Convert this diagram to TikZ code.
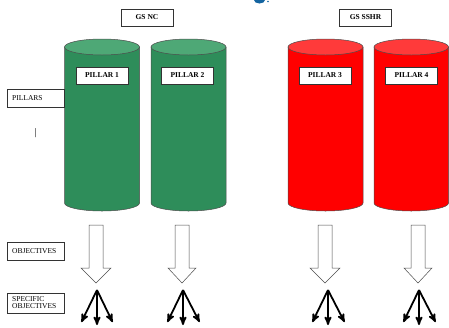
\documentclass[tikz,border=0pt]{standalone}
\usepackage{fontspec}
\setmainfont{Liberation Serif}
\usetikzlibrary{arrows}
\definecolor{pillargreen}{RGB}{46,141,90}
\definecolor{greentop}{RGB}{78,168,118}
\definecolor{pillarred}{RGB}{255,0,0}
\definecolor{redtop}{RGB}{255,58,58}
\definecolor{logoblue}{RGB}{20,100,160}

\begin{document}
\begin{tikzpicture}[
    x=1pt, y=-1pt,
    every node/.style={color=black},
    pillar body/.style={draw=black!70, line width=0.5pt},
    title box/.style={draw=black!80, fill=white, inner sep=1pt,
        minimum width=52pt, minimum height=17pt,
        font=\fontsize{7.5}{9}\selectfont\bfseries},
    side box/.style={draw=black!80, fill=white, anchor=west,
        inner xsep=5pt, inner ysep=1pt, text width=47pt, align=left,
        minimum height=18pt, font=\fontsize{7.5}{8}\selectfont},
    hollow arrow/.style={draw=black!70, fill=white, line width=0.5pt},
    fork/.style={line width=1.8pt, ->, >=stealth', shorten >=1pt}
    ]

\useasboundingbox (0,0) rectangle (449,327);

% logo fragment
\fill[logoblue] (254,0) arc[start angle=180, end angle=0, x radius=5.5, y radius=3.5] -- cycle;
\fill[logoblue] (268,1.5) circle (0.8);

% green cylinders
\draw[pillar body, fill=pillargreen] (64.5,47) -- (64.5,203)
    arc[start angle=180, end angle=0, x radius=37.5, y radius=8] -- (139.5,47) -- cycle;
\draw[pillar body, fill=greentop] (102,47) ellipse (37.5 and 8);

\draw[pillar body, fill=pillargreen] (151,47) -- (151,203)
    arc[start angle=180, end angle=0, x radius=37.5, y radius=8] -- (226,47) -- cycle;
\draw[pillar body, fill=greentop] (188.5,47) ellipse (37.5 and 8);

% red cylinders
\draw[pillar body, fill=pillarred] (288,47) -- (288,203)
    arc[start angle=180, end angle=0, x radius=37.5, y radius=8] -- (363,47) -- cycle;
\draw[pillar body, fill=redtop] (325.5,47) ellipse (37.5 and 8);

\draw[pillar body, fill=pillarred] (374,47) -- (374,203)
    arc[start angle=180, end angle=0, x radius=37.25, y radius=8] -- (448.5,47) -- cycle;
\draw[pillar body, fill=redtop] (411.25,47) ellipse (37.25 and 8);

% group titles
\node[title box] (gsnc) at (147,17.5) {GS NC};
\node[title box] (gssshr) at (365.5,17.5) {GS SSHR};

% pillar labels
\node[title box] (pillar1) at (102,75.5) {PILLAR 1};
\node[title box] (pillar2) at (187.5,75.5) {PILLAR 2};
\node[title box] (pillar3) at (325,75.5) {PILLAR 3};
\node[title box] (pillar4) at (411.5,75.5) {PILLAR 4};

% row labels
\node[side box] (pillars) at (7,98) {PILLARS};
\node[font=\fontsize{10}{10}\selectfont] (bar) at (36,133) {|};
\node[side box] (objectives) at (7,251.5) {OBJECTIVES};
\node[side box, minimum height=20pt] (specific) at (7,303)
    {SPECIFIC\\[-1pt]OBJECTIVES};

% hollow arrows
\draw[hollow arrow] (89,225) -- (103,225) -- (103,268) -- (111,268)
    -- (96,283) -- (81,268) -- (89,268) -- cycle;
\draw[hollow arrow] (175,225) -- (189,225) -- (189,268) -- (196,268)
    -- (182,283) -- (168,268) -- (175,268) -- cycle;
\draw[hollow arrow] (318,225) -- (332,225) -- (332,268) -- (340,268)
    -- (325,283) -- (310,268) -- (318,268) -- cycle;
\draw[hollow arrow] (411,225) -- (425,225) -- (425,268) -- (432,268)
    -- (418,283) -- (404,268) -- (411,268) -- cycle;

% specific objective forks
\coordinate (fork1) at (97,290);
\coordinate (fork2) at (183,290);
\coordinate (fork3) at (328,290);
\coordinate (fork4) at (419,290);

\draw[fork] (fork1) -- ++(-16,33);
\draw[fork] (fork1) -- ++(0,36);
\draw[fork] (fork1) -- ++(16,33);

\draw[fork] (fork2) -- ++(-16,33);
\draw[fork] (fork2) -- ++(0,36);
\draw[fork] (fork2) -- ++(17,33);

\draw[fork] (fork3) -- ++(-16,33);
\draw[fork] (fork3) -- ++(0,36);
\draw[fork] (fork3) -- ++(17,33);

\draw[fork] (fork4) -- ++(-16,33);
\draw[fork] (fork4) -- ++(0,36);
\draw[fork] (fork4) -- ++(17,33);

\end{tikzpicture}
\end{document}
